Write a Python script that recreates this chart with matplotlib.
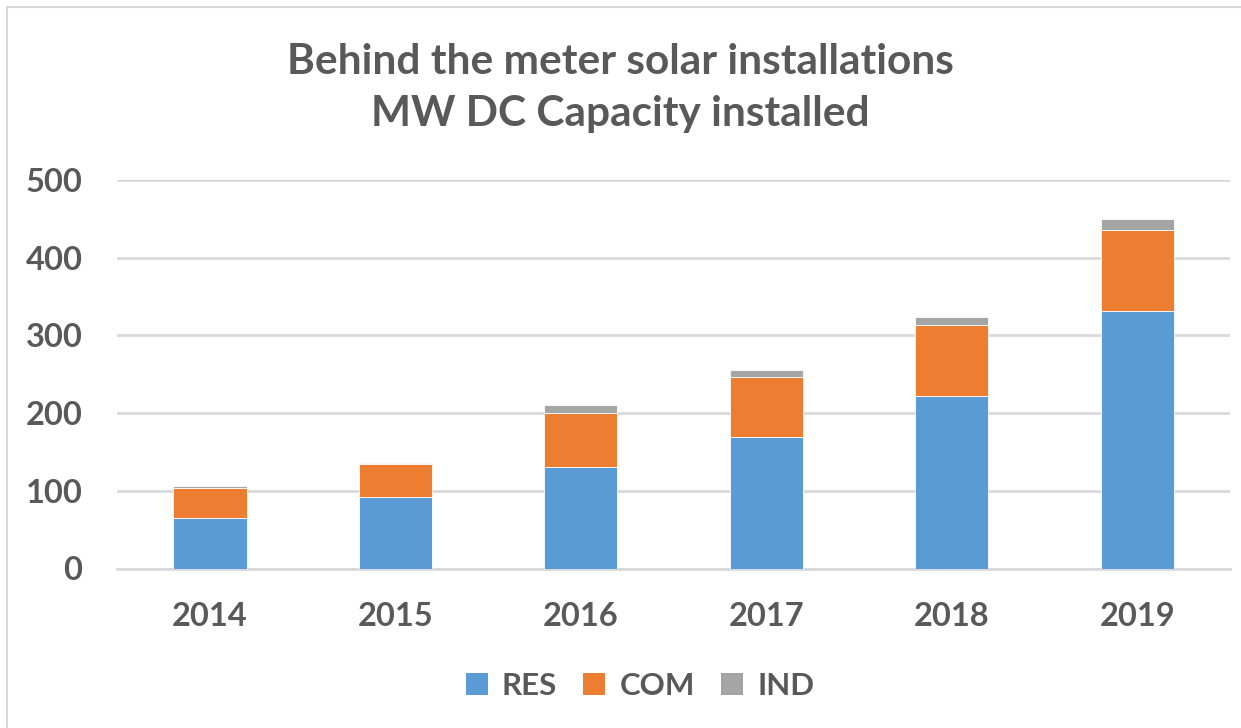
import matplotlib
matplotlib.use("Agg")
import matplotlib.pyplot as plt
from matplotlib.patches import Rectangle, Patch
import numpy as np

years = ["2014", "2015", "2016", "2017", "2018", "2019"]
res = [65, 92, 131, 169, 222, 332]
com = [38, 43, 69, 77, 92, 104]
ind = [3, 1, 10, 10, 10, 14]
yticks = [0, 100, 200, 300, 400, 500]

BLUE = "#5B9BD5"
ORANGE = "#ED7D31"
GRAY = "#A5A5A5"
TXT = "#595959"
GRID = "#D9D9D9"

plt.rcParams['font.family'] = ['Lato', 'DejaVu Sans']

fig = plt.figure(figsize=(12.41, 7.28), dpi=100)
fig.patches.append(Rectangle((7/1241, -0.1), 1.2, (728 - 7) / 728 + 0.1,
                             transform=fig.transFigure, fill=False,
                             edgecolor=GRID, linewidth=1.5))

ax = fig.add_axes([117.3/1241, (728-568.5)/728, (1230-117.3)/1241, 388.5/728])
x = np.arange(len(years))
w = 0.394
res_a = np.array(res); com_a = np.array(com); ind_a = np.array(ind)
ax.bar(x, res_a, w, color=BLUE, edgecolor="white", linewidth=0.6, label="RES", zorder=3)
ax.bar(x, com_a, w, bottom=res_a, color=ORANGE, edgecolor="white", linewidth=0.6, label="COM", zorder=3)
ax.bar(x, ind_a, w, bottom=res_a + com_a, color=GRAY, edgecolor="white", linewidth=0.6, label="IND", zorder=3)

ax.set_xlim(-0.5, len(years) - 0.5)
ax.set_ylim(0, 500)
ax.set_yticks(yticks)
ax.set_xticks(x)
ax.set_xticklabels(years)
ax.yaxis.grid(True, color=GRID, linewidth=2.0, zorder=0)
ax.set_axisbelow(True)
for s in ["top", "right", "left"]:
    ax.spines[s].set_visible(False)
ax.spines["bottom"].set_color(GRID)
ax.spines["bottom"].set_linewidth(2.0)
ax.tick_params(axis="both", length=0, labelsize=23.5, labelcolor=TXT)
ax.tick_params(axis="y", pad=25)
ax.tick_params(axis="x", pad=24)
for lab in ax.get_xticklabels() + ax.get_yticklabels():
    lab.set_fontweight("bold")

fig.text(0.5, (728-88)/728, "Behind the meter solar installations\nMW DC Capacity installed",
         ha="center", va="center", fontsize=30.5, fontweight="bold", color=TXT,
         linespacing=1.45)

handles = [Patch(facecolor=BLUE, label="RES"), Patch(facecolor=ORANGE, label="COM"),
           Patch(facecolor=GRAY, label="IND")]
leg = fig.legend(handles=handles, loc="center", bbox_to_anchor=(640/1241, (728-686)/728),
                 ncol=3, frameon=False, handlelength=0.7, handleheight=0.7,
                 handletextpad=0.45, columnspacing=0.85,
                 prop={"size": 22.5, "weight": "bold"})
for t in leg.get_texts():
    t.set_color(TXT)

fig.savefig("out.png", dpi=100)
